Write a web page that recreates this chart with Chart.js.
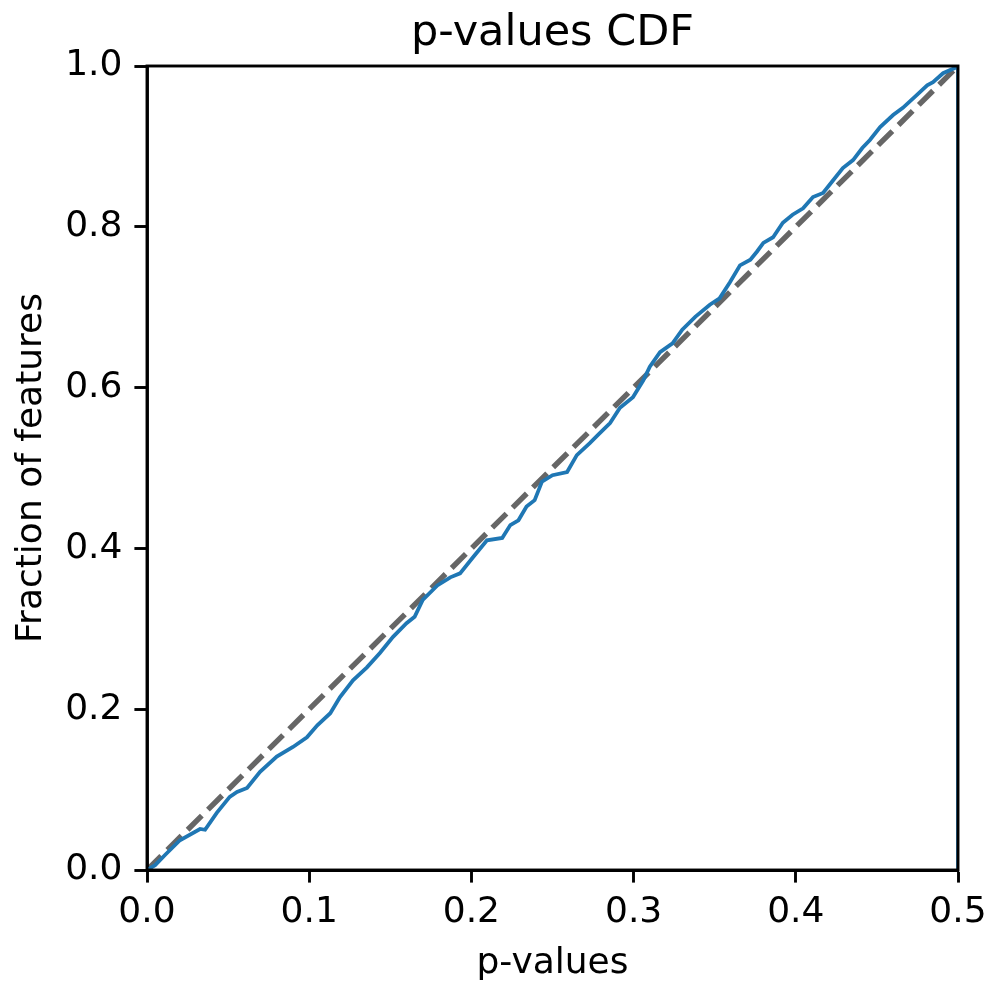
<!DOCTYPE html>
<html>
<head>
<meta charset="utf-8">
<title>p-values CDF</title>
<script src="https://cdn.jsdelivr.net/npm/chart.js@4/dist/chart.umd.min.js"></script>
<style>
    html, body { margin: 0; padding: 0; background: #fff; }
    canvas { display: block; }
</style>
</head>
<body>
<canvas id="cdfChart" width="991" height="983"></canvas>
<script>
// ===== DATA =====
const pValues = [
    0, 0.005, 0.0111, 0.0203, 0.0327, 0.0358, 0.043, 0.051, 0.0555, 0.0617,
    0.0697, 0.080, 0.090, 0.0986, 0.105, 0.113, 0.119, 0.127, 0.1356, 0.1436,
    0.1517, 0.160, 0.165, 0.170, 0.179, 0.187, 0.193, 0.201, 0.2096, 0.219,
    0.224, 0.229, 0.234, 0.239, 0.2435, 0.250, 0.259, 0.265, 0.273, 0.279,
    0.2855, 0.2916, 0.2996, 0.306, 0.310, 0.3163, 0.324, 0.330, 0.338, 0.347,
    0.353, 0.3594, 0.3656, 0.372, 0.376, 0.380, 0.386, 0.392, 0.398, 0.4045,
    0.4106, 0.4168, 0.4223, 0.429, 0.4353, 0.441, 0.4457, 0.452, 0.460, 0.466,
    0.4747, 0.481, 0.4846, 0.4908, 0.498, 0.5, 0.5
];
const cdfValues = [
    0, 0.006, 0.0187, 0.037, 0.051, 0.050, 0.071, 0.091, 0.097, 0.102,
    0.122, 0.141, 0.153, 0.165, 0.180, 0.195, 0.215, 0.236, 0.252, 0.270,
    0.290, 0.307, 0.315, 0.336, 0.354, 0.364, 0.369, 0.389, 0.410, 0.413,
    0.429, 0.435, 0.452, 0.460, 0.483, 0.491, 0.495, 0.516, 0.531, 0.543,
    0.556, 0.575, 0.588, 0.609, 0.626, 0.644, 0.655, 0.672, 0.688, 0.703,
    0.711, 0.731, 0.752, 0.759, 0.769, 0.780, 0.787, 0.805, 0.815, 0.823,
    0.837, 0.842, 0.856, 0.873, 0.883, 0.898, 0.908, 0.924, 0.939, 0.948,
    0.964, 0.976, 0.980, 0.991, 0.9975, 1.0, 0
];
const diagX = [0, 0.5];
const diagY = [0, 1];

const xTicks = [0, 0.1, 0.2, 0.3, 0.4, 0.5];
const yTicks = [0, 0.2, 0.4, 0.6, 0.8, 1.0];

const chartTitle = "p-values CDF";
const FONT = "'DejaVu Sans', sans-serif";

// draw the top/right spines too (matplotlib box)
const framePlugin = {
    id: "frame",
    afterDatasetsDraw(chart) {
        const { ctx, chartArea } = chart;
        ctx.save();
        ctx.strokeStyle = "#000";
        ctx.lineWidth = 2.9;
        ctx.strokeRect(chartArea.left, chartArea.top,
            chartArea.right - chartArea.left, chartArea.bottom - chartArea.top);
        ctx.restore();
    }
};

// title centred over the axes, not the canvas
const axesTitlePlugin = {
    id: "axesTitle",
    afterDraw(chart) {
        const { ctx, chartArea } = chart;
        ctx.save();
        ctx.fillStyle = "#000";
        ctx.font = "43px " + FONT;
        ctx.textAlign = "center";
        ctx.textBaseline = "alphabetic";
        ctx.fillText(chartTitle, (chartArea.left + chartArea.right) / 2, chartArea.top - 21);
        ctx.restore();
    }
};

function toPoints(xs, ys) {
    return xs.map((x, i) => ({ x: x, y: ys[i] }));
}

const axisCommon = {
    type: "linear",
    grid: {
        drawOnChartArea: false,
        drawTicks: true,
        tickLength: 12.6,
        tickWidth: 2.9,
        tickColor: "#000"
    },
    border: { display: true, color: "#000", width: 2.9 }
};

new Chart(document.getElementById("cdfChart").getContext("2d"), {
    type: "scatter",
    data: {
        datasets: [
            {
                label: "CDF",
                data: toPoints(pValues, cdfValues),
                showLine: true,
                borderColor: "#1f77b4",
                borderWidth: 3.8,
                pointRadius: 0,
                tension: 0,
                fill: false
            },
            {
                label: "uniform",
                data: toPoints(diagX, diagY),
                showLine: true,
                borderColor: "rgba(0,0,0,0.6)",
                borderWidth: 5.4,
                borderDash: [20, 8.6],
                pointRadius: 0,
                fill: false
            }
        ]
    },
    options: {
        responsive: false,
        animation: false,
        layout: { padding: { left: 0, right: 33, top: 66, bottom: 0 } },
        plugins: {
            legend: { display: false },
            tooltip: { enabled: false },
            title: { display: false }
        },
        scales: {
            x: {
                ...axisCommon,
                min: 0,
                max: 0.5,
                afterBuildTicks: (scale) => {
                    scale.ticks = xTicks.map(v => ({ value: v }));
                },
                afterFit: (scale) => {
                    scale.height = 113;
                    scale.paddingLeft = 0;
                    scale.paddingRight = 0;
                },
                ticks: {
                    color: "#000",
                    padding: 8,
                    maxRotation: 0,
                    font: { family: FONT, size: 36 },
                    callback: (v) => Number(v).toFixed(1)
                },
                title: {
                    display: true,
                    text: "p-values",
                    color: "#000",
                    font: { family: FONT, size: 36 },
                    padding: { top: 0, bottom: -2 }
                }
            },
            y: {
                ...axisCommon,
                min: 0,
                max: 1,
                afterBuildTicks: (scale) => {
                    scale.ticks = yTicks.map(v => ({ value: v }));
                },
                afterFit: (scale) => {
                    scale.width = 147;
                    scale.paddingTop = 0;
                    scale.paddingBottom = 0;
                },
                ticks: {
                    color: "#000",
                    padding: 12,
                    font: { family: FONT, size: 36 },
                    callback: (v) => Number(v).toFixed(1)
                },
                title: {
                    display: true,
                    text: "Fraction of features",
                    color: "#000",
                    font: { family: FONT, size: 36 },
                    padding: { top: 10, bottom: 0 }
                }
            }
        }
    },
    plugins: [framePlugin, axesTitlePlugin]
});
</script>
</body>
</html>
